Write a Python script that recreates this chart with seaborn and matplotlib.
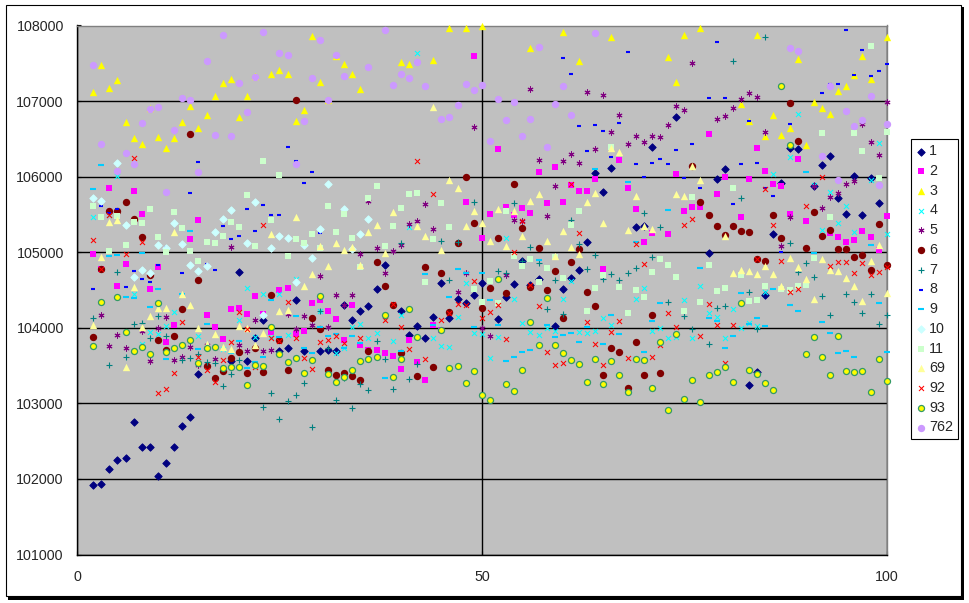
import seaborn as sns
from matplotlib import pyplot as plt
from matplotlib.patches import Rectangle

# values, (x, y) per series
s1 = [(2,101917),(3,101930),(4,102129),(5,102248),(6,102275),(7,102751),(8,102420),(9,102420),(10,102036),(11,102208),
      (12,102420),(13,102698),(14,102817),(15,103386),(19,103562),(20,104735),(21,103558),(22,103871),(23,104100),(25,103695),
      (26,103734),(27,104365),(28,103695),(30,103690),(31,103708),(32,103690),(33,104299),(34,104100),(35,104219),(36,104286),
      (37,104510),(38,104828),(40,104228),(41,103902),(42,104021),(43,103862),(44,104140),(45,104590),(46,104127),(47,104378),
      (48,104325),(49,104431),(50,104590),(52,104114),(53,104405),(54,104577),(55,104885),(56,104570),(57,104643),(59,104021),
      (60,104510),(61,104656),(62,104762),(63,105135),(64,106047),(65,105796),(66,106114),(69,105333),(70,105350),(71,106391),
      (74,106788),(78,104989),(79,105968),(80,106100),(83,103240),(84,103421),(85,104431),(86,105240),(87,105915),(88,106378),
      (89,106365),(91,105875),(92,106153),(93,106272),(94,105717),(95,105505),(96,106008),(97,105492),(98,105981),(99,105651)]
s2 = [(2,104980),(3,104780),(4,105853),(5,104555),(6,104846),(7,105814),(8,105509),(9,104515),(10,104806),(11,103814),
      (12,104039),(14,105179),(15,105430),(16,104171),(17,104012),(18,103853),(19,104250),(20,104264),(21,104184),(22,104422),
      (23,104184),(24,103946),(25,104502),(26,104528),(27,103915),(28,103959),(29,104330),(30,104365),(31,104224),(32,104118),
      (33,103840),(34,104303),(35,103774),(36,103708),(37,103708),(38,103668),(39,103628),(40,103456),(41,103840),(42,103549),
      (43,103311),(44,104043),(45,103972),(48,105668),(49,107600),(50,105192),(51,105509),(52,106369),(53,105593),(54,105496),
      (55,105589),(56,105523),(57,106065),(58,105655),(59,106131),(60,105668),(61,105893),(62,105814),(63,105814),(64,105972),
      (65,104775),(67,106224),(68,105853),(69,105576),(70,105139),(71,105254),(73,105245),(74,106039),(75,105549),(76,105602),
      (77,105602),(78,106568),(79,105774),(80,105999),(82,105470),(83,105972),(84,106383),(85,106078),(86,105906),(87,105880),
      (88,105509),(89,106237),(90,105417),(93,105258),(94,105205),(95,105139),(96,105165),(97,105285),(98,105205),(99,105029),
      (100,105483)]
s3 = [(2,107115),(3,107481),(4,107176),(5,107273),(6,106718),(7,106506),(8,106427),(9,106907),(10,106519),(11,106374),
      (12,106506),(13,106718),(14,106929),(15,106638),(16,106810),(17,107062),(18,107234),(19,107287),(20,106784),(21,107062),
      (22,107335),(24,107353),(25,107406),(26,107353),(27,106731),(28,106877),(29,107856),(30,107247),(31,107010),(32,107591),
      (33,107485),(34,107353),(35,107154),(40,107512),(41,107485),(44,107547),(46,107961),(48,107961),(50,107988),(56,107697),
      (60,107908),(62,107525),(66,107842),(73,107578),(74,107247),(75,107869),(77,107961),(82,106965),(83,106740),(84,107869),
      (85,106541),(86,106819),(87,106555),(88,106647),(89,107560),(90,106422),(91,106990),(92,106903),(93,106832),(94,107128),
      (95,107194),(96,107340),(97,107591),(98,107295),(100,107842)]
s4 = [(2,105465),(4,105496),(5,106008),(7,104449),(8,103787),(9,103946),(10,103920),(11,104021),(12,104211),(15,103889),
      (18,103717),(20,104105),(21,104524),(22,103875),(23,104449),(24,103875),(25,104449),(26,103902),(27,104643),(30,104219),
      (32,103664),(33,103730),(34,104008),(35,104047),(36,103862),(37,103928),(39,103823),(40,104167),(41,105333),(42,107635),
      (44,103862),(45,103756),(46,103743),(47,104140),(48,104599),(49,103928),(50,103915),(51,103598),(52,103875),(53,105187),
      (54,104378),(55,104061),(56,103942),(57,103902),(58,103995),(59,103955),(60,104378),(61,104616),(62,103942),(63,103928),
      (64,103955),(65,104127),(66,104034),(69,104378),(70,104524),(71,103955),(72,103995),(73,103862),(74,103875),(75,104365),
      (76,103862),(77,104550),(78,104193),(79,104140),(80,103862),(81,104246),(82,103995),(83,104061),(84,104021),(85,104480),
      (86,106034),(88,106259),(89,106824),(91,105889),(92,105293),(93,105792),(94,105386),(95,105606),(96,105267),(98,105959),
      (99,106444),(100,105240)]
s5 = [(3,104167),(4,103756),(5,103902),(6,103730),(8,103955),(9,103558),(10,103995),(11,104140),(12,103571),(13,103611),
      (14,103743),(15,103505),(16,103775),(17,103584),(19,105068),(20,103770),(21,103690),(22,104100),(23,103690),(24,103703),
      (26,104180),(27,103981),(28,104153),(29,104034),(30,104682),(31,104008),(32,104431),(33,104299),(34,104431),(35,104976),
      (36,105673),(37,105055),(38,104722),(39,105015),(40,105095),(41,105373),(42,105412),(43,105637),(44,105307),(47,104471),
      (48,104722),(49,106656),(50,103995),(51,103889),(53,104696),(54,105426),(55,105412),(56,107159),(57,106219),(58,105479),
      (59,105875),(60,106206),(61,106299),(62,106180),(63,107119),(64,106365),(65,107079),(66,106590),(67,106815),(68,106431),
      (69,106537),(70,106458),(71,106537),(72,106524),(73,106682),(74,106934),(75,106881),(76,107503),(79,106762),(80,106802),
      (81,106907),(82,107026),(83,107106),(84,107053),(85,106590),(87,105082),(88,105465),(91,105875),(92,105584),(93,105730),
      (94,105783),(95,105902),(96,105942),(97,106700),(98,106458),(99,106286),(100,106987)]
s6 = [(2,103880),(3,104780),(4,105549),(5,105549),(6,105668),(7,105443),(8,105205),(9,104700),(10,103840),(11,103708),
      (12,103893),(13,104250),(14,106568),(15,104634),(16,103496),(17,103337),(18,103430),(19,103602),(20,103681),(21,103404),
      (22,103734),(23,103417),(24,104436),(25,103840),(26,103443),(27,107018),(29,104131),(30,103986),(31,103443),(32,103377),
      (33,103404),(34,103364),(35,103311),(36,103695),(37,104872),(38,104555),(39,104303),(40,103668),(42,103364),(43,104806),
      (44,103483),(45,104727),(46,104211),(47,105126),(48,105999),(49,105390),(50,104264),(51,104528),(52,105192),(53,104462),
      (54,105906),(55,105324),(56,104541),(57,105060),(58,104502),(59,104753),(60,104131),(61,104872),(62,105046),(63,104475),
      (64,104290),(65,103377),(66,103734),(67,103681),(68,103201),(69,103814),(70,103377),(71,104171),(72,103404),(76,106136),
      (77,105668),(78,105496),(79,105351),(80,105232),(81,105351),(82,105285),(83,105271),(84,104912),(85,104885),(86,105496),
      (87,105192),(88,106978),(89,106475),(90,105060),(91,105536),(92,105218),(93,105298),(94,105046),(95,105046),(96,104936),
      (97,104967),(98,104766),(99,105377),(100,104837)]
s7 = [(2,104136),(4,103505),(5,104735),(6,103611),(7,104047),(8,104061),(9,103862),(10,104153),(11,103889),(13,103571),
      (14,103598),(15,103651),(16,103545),(17,103531),(18,103227),(19,103386),(20,103571),(23,102949),(24,103135),(25,102791),
      (26,103029),(27,103108),(28,103267),(29,102685),(30,104219),(31,103730),(32,103042),(33,103333),(34,102936),(35,103254),
      (36,103174),(37,103823),(38,103584),(39,103187),(40,105121),(41,103320),(42,103518),(45,105148),(46,104630),(47,105135),
      (49,105664),(52,104749),(53,104722),(54,105651),(55,104885),(56,105068),(57,104863),(58,104246),(59,104630),(60,104180),
      (61,105430),(62,105108),(63,104775),(64,104963),(65,104643),(66,104709),(67,104630),(68,104722),(69,104788),(70,105518),
      (71,104936),(72,105333),(73,104339),(75,104153),(76,103981),(78,103783),(79,104259),(80,104286),(81,107529),(82,105717),
      (83,104471),(84,103981),(85,107847),(88,105121),(89,104735),(90,104854),(91,104669),(92,104418),(93,104167),(95,104444),
      (96,104339),(97,104193),(98,104444),(99,104047),(100,104167)]
s8 = [(2,104515),(3,105615),(4,105514),(5,105576),(6,104541),(7,104753),(8,104647),(9,104608),(10,104832),(11,105073),
      (12,105514),(13,104727),(14,105787),(15,106197),(16,104846),(17,104766),(18,105351),(19,105179),(20,105218),(21,105576),
      (22,105285),(23,105628),(24,105496),(25,105496),(26,106396),(27,106211),(28,105920),(29,106065),(30,105258),(60,107573),
      (61,107362),(62,106674),(63,106343),(64,106687),(65,106608),(66,106264),(67,106713),(68,107653),(69,106171),(70,105999),
      (71,106184),(72,106237),(73,106171),(74,106356),(75,105986),(76,106436),(77,105853),(78,107044),(79,107785),(80,107044),
      (81,105642),(82,106171),(83,106740),(84,106184),(85,105853),(86,105748),(87,105007),(88,106700),(92,107110),(93,107229),
      (94,107229),(95,107944),(96,107348),(97,107679),(98,107335),(99,107401),(100,107494)]
s9 = [(2,105840),(3,106158),(4,104954),(5,104967),(6,104409),(7,104396),(8,104993),(9,104277),(10,104515),(11,103589),
      (13,104449),(14,105285),(15,103721),(16,104052),(19,103668),(20,103827),(21,103470),(22,103549),(23,103615),(24,104369),
      (25,103880),(27,104158),(28,103734),(29,103668),(30,104012),(31,103893),(32,103920),(33,103734),(34,103893),(35,103801),
      (38,103337),(40,103695),(43,104713),(44,104043),(46,104409),(47,104780),(48,104727),(49,104012),(50,104727),(51,104369),
      (52,104039),(53,103562),(54,103615),(55,103681),(56,103708),(57,104899),(58,104039),(59,103880),(60,103906),(61,103933),
      (62,103814),(63,104012),(64,106105),(65,103787),(66,104171),(67,103920),(68,105933),(69,105139),(70,103681),(71,104092),
      (72,104330),(73,105562),(77,104793),(78,104131),(79,104092),(80,103734),(81,103893),(82,104462),(83,104052),(84,104131),
      (85,104025),(86,104515),(88,104303),(89,104224),(90,106065),(91,104996),(92,104078),(93,103933),(94,103668),(95,103695),
      (96,103615),(98,105099),(99,104330),(100,103681)]
s10 = [(2,105717),(3,105677),(5,106180),(6,105360),(7,104674),(8,104766),(9,104727),(10,105095),(11,105055),(12,105386),
       (13,105108),(14,104832),(15,104753),(16,104819),(17,105267),(18,105439),(19,105558),(21,105121),(22,105664),(23,104171),
       (24,105055),(25,105214),(26,105187),(27,104608),(28,105099),(29,104923),(30,105307),(31,105902),(33,105576),(34,105040),
       (35,105240),(36,105439)]
s11 = [(2,105615),(3,105470),(4,105020),(5,105483),(6,105099),(7,105404),(8,105390),(9,105576),(10,105205),(11,105007),
       (12,105536),(13,105324),(14,105020),(15,104879),(16,105139),(17,105126),(18,105218),(19,105404),(20,105337),(21,105761),
       (22,105086),(23,106211),(24,105430),(25,106025),(26,104954),(27,105179),(28,105126),(29,105245),(30,105051),(31,105615),
       (32,105271),(33,105509),(34,105192),(35,104810),(36,105721),(37,105880),(38,105086),(39,105351),(40,105589),(41,105774),
       (42,105787),(43,104608),(44,105179),(45,105655),(46,105337),(49,104515),(50,104343),(51,104621),(52,104330),(53,105549),
       (54,104951),(55,104819),(56,104912),(57,104608),(58,104793),(59,104938),(60,104660),(61,105364),(62,105549),(63,104224),
       (64,104528),(65,104700),(66,106396),(67,104541),(68,104197),(69,104502),(70,104409),(71,104740),(72,104912),(73,104832),
       (74,104674),(75,104224),(76,105734),(77,104343),(78,104832),(79,104488),(80,104528),(81,105853),(82,104700),(83,104356),
       (84,104369),(85,104555),(87,104515),(88,104502),(89,104555),(90,104568),(91,104923),(92,106581),(93,105470),(96,106581),
       (97,106343),(98,107732),(99,105986),(100,106594)]
s69 = [(2,104039),(3,104932),(4,105395),(5,105421),(6,103483),(7,104541),(8,104012),(9,104158),(10,104259),(11,104259),
       (12,105271),(13,104449),(14,104303),(15,103999),(16,103787),(17,103920),(18,103748),(19,103721),(20,104025),(21,103999),
       (22,103774),(23,103933),(24,105245),(25,104224),(26,104237),(27,105461),(28,104555),(29,104713),(30,105077),(31,104824),
       (32,105126),(33,105033),(34,105073),(35,104832),(36,105262),(37,105355),(38,104985),(39,105527),(42,105342),(43,105210),
       (44,106925),(45,105024),(46,105959),(47,105845),(48,105351),(49,105540),(50,105382),(51,105143),(52,105567),(53,105077),
       (54,105540),(55,105210),(56,105673),(57,105765),(58,105143),(59,104945),(60,105276),(61,105064),(62,104971),(63,105659),
       (64,105778),(65,105382),(66,106383),(67,106321),(68,105289),(69,105748),(70,105351),(71,105311),(74,105765),(75,105739),
       (76,106136),(77,105950),(80,105210),(81,104727),(82,104766),(83,104753),(84,104713),(85,104819),(86,104713),(87,104555),
       (88,104925),(89,104806),(90,104647),(91,104383),(92,104912),(93,104766),(94,104753),(95,104660),(96,104555),(97,104356),
       (98,104885),(99,105099),(100,104462)]
s92 = [(2,105161),(3,104780),(4,105496),(6,104976),(7,106241),(8,105135),(10,103135),(11,103187),(12,103399),(13,104074),
       (15,103611),(16,103443),(17,103280),(18,103571),(19,103809),(20,104211),(21,103981),(22,103479),(23,105355),(24,103862),
       (25,103823),(26,104339),(27,103860),(28,103602),(29,103452),(30,103809),(31,103836),(32,103889),(33,103796),(35,103862),
       (38,104100),(39,104316),(40,104008),(41,103717),(42,106206),(43,103584),(44,105770),(45,104100),(46,104193),(47,104312),
       (48,104299),(49,104616),(50,104127),(51,104206),(52,104299),(53,103849),(54,105002),(55,105412),(56,104563),(57,104286),
       (58,103677),(59,103505),(60,103531),(61,105898),(62,105254),(63,104074),(64,103783),(65,103505),(66,103942),(67,104087),
       (68,103606),(69,105108),(70,104841),(71,103611),(72,103770),(73,104193),(74,104008),(75,105355),(76,105439),(77,103889),
       (78,104312),(79,104043),(80,103531),(81,104043),(84,104912),(85,105836),(86,105355),(87,104881),(88,104471),(89,104510),
       (90,105606),(92,105995),(93,104819),(94,104868),(95,104868),(96,104722),(97,104854),(98,104700),(99,104735),(100,104802)]
s93 = [(2,103761),(3,104343),(5,104409),(6,103946),(7,103695),(8,103748),(9,103655),(10,104330),(11,103681),(12,103734),
       (13,103774),(14,103840),(15,103536),(16,103734),(17,103748),(18,103470),(19,103483),(20,103483),(21,103245),(22,103509),
       (23,103496),(24,104012),(25,103655),(26,103549),(27,103602),(28,103404),(29,103576),(30,104422),(31,103390),(32,103285),
       (33,103351),(34,103443),(35,103562),(36,103589),(37,103615),(38,104171),(39,103351),(40,103589),(41,104250),(42,103880),
       (45,103972),(46,103470),(47,103496),(48,103271),(49,103430),(50,103113),(51,103046),(52,104647),(53,103258),(54,103165),
       (55,103443),(56,104078),(57,103774),(58,104396),(59,103774),(60,103668),(61,103576),(62,103523),(63,103285),(64,103589),
       (65,103258),(66,103562),(67,103377),(68,103152),(69,103589),(70,103576),(71,103205),(72,103814),(73,102914),(74,103920),
       (75,103060),(76,103311),(77,103020),(78,103377),(79,103417),(80,103483),(81,103285),(82,104330),(83,103443),(84,103390),
       (85,103271),(86,103179),(87,107203),(88,106422),(90,103655),(91,103880),(92,103615),(93,103377),(94,103893),(95,103430),
       (96,103417),(97,103430),(98,103152),(99,103589),(100,103298)]
s762 = [(2,107481),(3,106436),(5,106078),(6,106316),(7,106171),(8,106713),(9,106899),(10,106925),(11,105800),(12,106621),
        (13,107044),(14,107018),(15,106065),(16,107534),(17,106555),(18,107878),(19,106541),(20,107243),(21,106859),(22,107322),
        (23,107917),(25,107639),(26,107613),(27,106171),(28,106740),(29,107309),(30,107811),(31,107018),(32,107613),(33,107335),
        (36,107454),(38,107944),(39,107216),(40,107362),(41,107309),(42,107520),(43,107203),(45,106766),(46,106793),(47,106951),
        (48,107229),(49,107150),(50,107216),(51,106475),(52,107031),(53,106753),(54,106991),(55,106541),(56,106766),(57,107719),
        (58,106396),(59,106965),(60,107203),(61,106819),(64,107904),(88,107706),(89,107666),(92,106277),(93,107203),(94,105959),
        (95,106872),(96,106674),(97,106753),(98,107071),(99,105893),(100,106700)]

names = ["1", "2", "3", "4", "5", "6", "7", "8", "9", "10", "11", "69", "92", "93", "762"]
series = [s1, s2, s3, s4, s5, s6, s7, s8, s9, s10, s11, s69, s92, s93, s762]
colors = ["#000080", "#FF00FF", "#FFFF00", "#00FFFF", "#800080", "#800000", "#008080", "#0000FF",
          "#00CCFF", "#CCFFFF", "#CCFFCC", "#FFFF99", "#FF0000", "#FFFF00", "#CC99FF"]
markers = ["D", "s", "^", "x", (6, 2, 0), "o", "+", "_", "_", "D", "s", "^", "x", "o", "o"]
sizes = [14, 20, 28, 13, 14, 28, 18, 8, 24, 14, 20, 28, 13, 19, 28]
edges = [None, None, None, None, None, None, None, None, None, None, None, None, None, "#339966", None]
widths = [0.7, 0.0, 0.0, 0.75, 0.75, 0.0, 0.8, 1.5, 1.5, 0.7, 0.0, 0.0, 0.75, 0.9, 0.0]

W, H = 969, 603

sns.set_style("white")
plt.rcParams["font.family"] = ["Liberation Sans", "DejaVu Sans"]

fig = plt.figure(figsize=(W / 100, H / 100), dpi=100)
fig.patch.set_facecolor("white")

# chart frame with its drop shadow, behind the axes
fig.add_artist(Rectangle((8 / W, 1 - 599.5 / H), 956 / W, 592.5 / H, transform=fig.transFigure,
                         fc="black", ec="none", zorder=-2))
fig.add_artist(Rectangle((5.5 / W, 1 - 595.5 / H), 955.5 / W, 590.5 / H, transform=fig.transFigure,
                         fc="white", ec="black", lw=0.8, zorder=-1))

ax = fig.add_axes([77 / W, 1 - 554.5 / H, 809.7 / W, 529 / H])
ax.set_facecolor("#C0C0C0")

for data, name, color, marker, size, edge, width in zip(series, names, colors, markers, sizes, edges, widths):
    xs = [p[0] for p in data]
    ys = [p[1] for p in data]
    kw = {}
    if marker not in ("x", "+", "_", (6, 2, 0)):
        kw["edgecolor"] = edge if edge else color
    sns.scatterplot(x=xs, y=ys, ax=ax, color=color, marker=marker, s=size, linewidth=width,
                    label=name, legend=False, clip_on=False, zorder=3, antialiased=False, **kw)

ax.set_xlim(0, 100)
ax.set_ylim(101000, 108000)
ax.set_xticks([0, 50, 100])
ax.set_yticks(range(101000, 108001, 1000))
ax.grid(True, color="black", linewidth=1.0)
ax.set_axisbelow(True)
ax.tick_params(axis="x", direction="in", length=3, width=0.8, color="black", labelsize=10.3, pad=11, bottom=True)
ax.tick_params(axis="y", direction="in", length=3, width=0.8, color="black", labelsize=10.3, pad=9.5, left=True)

for side in ["top", "right"]:
    ax.spines[side].set_color("#808080")
    ax.spines[side].set_linewidth(1.0)
for side in ["left", "bottom"]:
    ax.spines[side].set_color("black")
    ax.spines[side].set_linewidth(1.0)

leg = ax.legend(loc="upper left", bbox_to_anchor=(911.3 / W, 1 - 139.3 / H), bbox_transform=fig.transFigure,
                fontsize=10.3, frameon=True, fancybox=False, edgecolor="black", facecolor="white", framealpha=1,
                labelspacing=0.4, borderpad=0.35, handlelength=0.6, handletextpad=0.3, borderaxespad=0, scatterpoints=1)
leg.get_frame().set_linewidth(0.8)
leg.set_zorder(10)

fig.savefig("out.png", dpi=100, facecolor="white")
